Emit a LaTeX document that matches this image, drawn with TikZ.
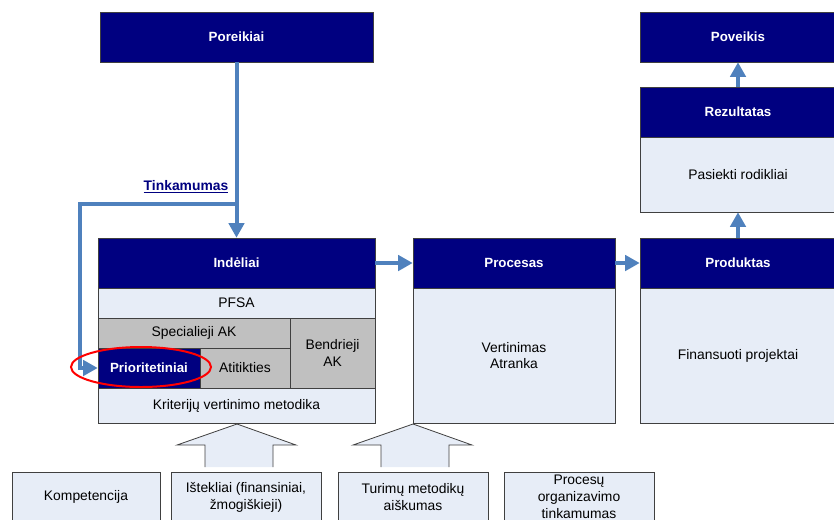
\documentclass[tikz,border=0pt]{standalone}
\usepackage{fontspec}
\setmainfont{Liberation Sans}
\usetikzlibrary{arrows.meta}
\usetikzlibrary{calc}
\definecolor{navy}{RGB}{0,0,128}
\definecolor{pale}{RGB}{231,237,247}
\definecolor{midgray}{RGB}{192,192,192}
\definecolor{flowblue}{RGB}{79,129,189}
\definecolor{edge}{RGB}{64,64,64}
\tikzset{
	sz/.style 2 args={minimum width=#1*0.75pt, minimum height=#2*0.75pt},
	hdr/.style={draw=edge, fill=navy, text=white, font=\bfseries, inner sep=0pt},
	body/.style={draw=edge, fill=pale, inner sep=0pt, align=center},
	greybox/.style={draw=edge, fill=midgray, inner sep=0pt, align=center},
	flow/.style={draw=flowblue, line width=3pt, -{Triangle[length=11pt,width=11.5pt]}},
	bigarrow/.style={draw=edge, fill=pale, line width=0.6pt}
}
\begin{document}
\begin{tikzpicture}[x=0.75pt,y=-0.75pt,font=\fontsize{10.4}{12.6}\selectfont]
	\useasboundingbox (0,0) rectangle (834,519);
	% upper row
	\node[hdr,sz={273}{50}] (poreikiai) at (236.5,37) {Poreikiai};
	\node[hdr,sz={196}{50}] (poveikis) at (738,37) {Poveikis};
	\node[hdr,sz={196}{50}] (rezultatas) at (738,112) {Rezultatas};
	\node[body,sz={196}{75}] (rodikliai) at (738,174.5) {Pasiekti rodikliai};
	% Indeliai
	\node[hdr,sz={277}{50}] (indeliai) at (236.5,263) {Indėliai};
	\node[body,sz={277}{30}] (pfsa) at (236.5,303) {PFSA};
	\node[greybox,sz={192}{30}] (specialieji) at (194,333) {Specialieji AK};
	\node[greybox,sz={85}{70}] (bendrieji) at (332.5,353) {Bendrieji\\AK};
	\node[hdr,sz={102}{40}] (prioritetiniai) at (149,368) {Prioritetiniai};
	\node[greybox,sz={90}{40}] (atitikties) at (245,368) {Atitikties};
	\node[body,sz={277}{35}] (metodika) at (236.5,405.5) {Kriterijų vertinimo metodika};
	% Procesas, Produktas
	\node[hdr,sz={202}{50}] (procesas) at (514,263) {Procesas};
	\node[body,sz={202}{135}] (atranka) at (514,355.5) {Vertinimas\\Atranka};
	\node[hdr,sz={196}{50}] (produktas) at (738,263) {Produktas};
	\node[body,sz={196}{135}] (projektai) at (738,355.5) {Finansuoti projektai};
	% bottom row
	\foreach \name/\xc/\bw/\txt in {komp/86/148/Kompetencija,
		istekliai/246/150/{Ištekliai (finansiniai,\\žmogiškieji)},
		metodikos/413/150/{Turimų metodikų\\aiškumas},
		organizavimas/579/150/{Procesų\\organizavimo\\tinkamumas}} {
		\node[body,sz={\bw}{50}] (\name) at (\xc,497) {\txt};
	}
	% flows
	\draw[flow] (poreikiai.south) -- (indeliai.north);
	\coordinate (split) at ($(poreikiai.south)!0.807!(indeliai.north)$);
	\draw[flow] (split) -| (80,368) -- (prioritetiniai.west);
	\node[text=navy, font=\fontsize{10.4}{12.6}\selectfont\bfseries] (tinkamumas) at (186,187) {\underline{Tinkamumas}};
	\draw[flow] (indeliai.east) -- (procesas.west);
	\draw[flow] (procesas.east) -- (produktas.west);
	\draw[flow] (produktas.north) -- (rodikliai.south);
	\draw[flow] (rezultatas.north) -- (poveikis.south);
	\draw[red, line width=1.5pt] (141,367) ellipse [x radius=70, y radius=20];
	% block arrows
	\foreach \tip in {237,413} {
		\fill[pale] (\tip-32,467) -- (\tip-32,445) -- (\tip-60,445) -- (\tip,424)
			-- (\tip+59,445) -- (\tip+36,445) -- (\tip+36,467) -- cycle;
		\draw[bigarrow, fill=none] (\tip-32,467) -- (\tip-32,445) -- (\tip-60,445) -- (\tip,424)
			-- (\tip+59,445) -- (\tip+36,445) -- (\tip+36,467);
	}
\end{tikzpicture}
\end{document}
